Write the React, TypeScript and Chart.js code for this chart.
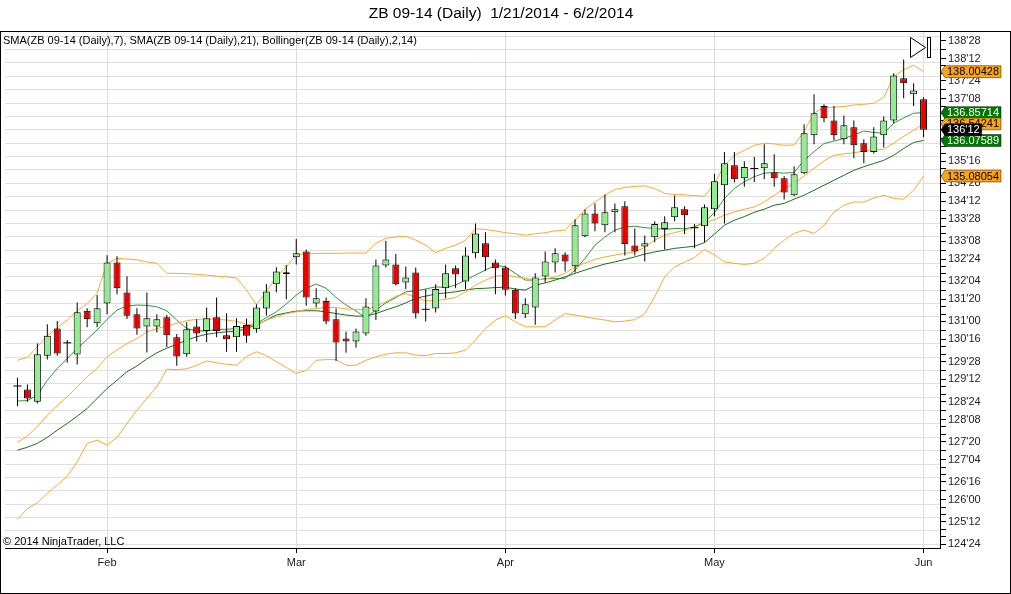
import React, { useEffect, useRef } from 'react';
import Chart from 'chart.js/auto';

// ZB 09-14 daily bars, 1/21/2014 - 6/2/2014 (bar index 0..91)
const monthTicks = [9, 28, 49, 70, 91];
const monthLabels = ['Feb', 'Mar', 'Apr', 'May', 'Jun'];

const priceTicks = [
  138.875, 138.375, 137.75, 137.25, 136.625, 136.125, 135.5, 134.875, 134.375, 133.875,
  133.25, 132.75, 132.125, 131.625, 131.0, 130.5, 129.875, 129.375, 128.75, 128.25,
  127.625, 127.125, 126.5, 126.0, 125.375, 124.75,
];

const opens = [
  129.19, 129.09, 128.75, 130.04, 130.8, 130.4, 130.07, 131.3, 130.95, 131.5,
  132.65, 131.81, 131.2, 130.86, 130.86, 131.12, 130.56, 130.08, 130.86, 130.73,
  131.12, 130.61, 130.56, 130.9, 130.78, 131.36, 132.04, 132.38, 132.8, 132.96,
  131.5, 131.57, 131.06, 130.52, 130.44, 130.66, 131.28, 132.57, 132.6, 132.09,
  132.37, 131.34, 131.36, 131.93, 132.49, 132.12, 132.91, 133.19, 132.65, 132.51,
  131.89, 131.2, 131.39, 132.26, 132.65, 132.88, 132.55, 133.39, 134.03, 133.7,
  134.06, 134.23, 133.13, 133.1, 133.36, 133.59, 133.92, 134.15, 133.63, 133.67,
  134.15, 134.82, 135.38, 135.02, 135.29, 135.3, 135.18, 135.02, 134.54, 135.16,
  136.22, 137.04, 136.64, 136.11, 136.45, 136.0, 135.75, 136.22, 136.64, 137.82,
  137.37, 137.23,
];
const highs = [
  129.42, 129.23, 130.38, 130.92, 131.01, 130.48, 131.53, 131.37, 131.74, 132.86,
  132.83, 132.27, 131.37, 131.81, 131.2, 131.18, 130.65, 130.98, 131.06, 131.39,
  131.67, 131.23, 131.09, 131.08, 131.48, 132.05, 132.52, 132.58, 133.31, 133.02,
  131.93, 131.67, 131.36, 130.71, 130.8, 131.65, 132.74, 133.26, 132.89, 132.54,
  132.51, 131.9, 132.04, 132.6, 132.57, 133.08, 133.75, 133.5, 132.74, 132.56,
  131.93, 131.65, 132.35, 132.96, 133.05, 132.94, 133.87, 134.15, 134.31, 134.56,
  134.31, 134.37, 133.61, 133.41, 133.81, 133.95, 134.53, 134.23, 133.73, 134.28,
  135.14, 135.75, 135.75, 135.49, 135.61, 135.97, 135.69, 135.07, 135.35, 136.53,
  137.37, 137.09, 137.04, 136.78, 136.64, 136.11, 136.45, 136.75, 137.96, 138.35,
  137.68, 137.29,
];
const lows = [
  128.62, 128.75, 128.7, 129.93, 130.04, 129.84, 129.79, 130.84, 130.84, 131.2,
  131.76, 131.07, 130.63, 130.13, 130.69, 130.28, 129.76, 130.01, 130.44, 130.42,
  130.56, 130.15, 130.15, 130.4, 130.68, 131.17, 131.81, 131.62, 132.6, 131.44,
  131.39, 130.92, 129.89, 130.12, 130.26, 130.6, 131.04, 132.51, 132.01, 131.91,
  131.08, 131.0, 131.25, 131.65, 131.93, 131.91, 132.77, 132.42, 131.76, 131.73,
  131.07, 131.1, 130.91, 132.09, 132.37, 132.4, 132.37, 133.36, 133.53, 133.5,
  133.5, 132.85, 132.85, 132.68, 133.22, 133.02, 133.81, 133.45, 133.05, 133.22,
  133.95, 133.75, 134.9, 134.78, 134.91, 134.99, 134.78, 134.42, 134.51, 135.13,
  135.97, 136.59, 136.08, 135.97, 135.58, 135.44, 135.71, 135.88, 136.56, 137.26,
  137.04, 136.17,
];
const closes = [
  129.19, 128.84, 130.08, 130.6, 130.1, 130.4, 131.26, 131.06, 131.37, 132.65,
  131.93, 131.16, 130.8, 131.09, 131.06, 130.61, 130.02, 130.78, 130.66, 131.09,
  130.73, 130.5, 130.87, 130.6, 131.39, 131.84, 132.4, 132.33, 132.91, 131.67,
  131.65, 131.0, 130.41, 130.44, 130.72, 131.42, 132.57, 132.74, 132.04, 132.23,
  131.22, 131.34, 131.91, 132.35, 132.32, 132.85, 133.47, 132.8, 132.49, 131.89,
  131.22, 131.48, 132.23, 132.68, 132.91, 132.68, 133.7, 134.03, 133.75, 134.06,
  134.15, 133.17, 132.96, 133.19, 133.73, 133.78, 134.2, 133.98, 133.63, 134.2,
  134.93, 135.44, 134.99, 135.33, 135.29, 135.44, 135.02, 134.62, 135.13, 136.28,
  136.84, 136.7, 136.22, 136.5, 135.94, 135.75, 136.19, 136.64, 137.9, 137.68,
  137.48, 136.375,
];

const sma7 = [
  128.77, 128.78, 128.93, 129.35, 129.68, 129.96, 130.24, 130.5, 130.76, 131.06,
  131.32, 131.43, 131.46, 131.45, 131.41, 131.3, 131.04, 130.8, 130.74, 130.73,
  130.78, 130.78, 130.8, 130.85, 130.94, 131.11, 131.27, 131.49, 131.74, 131.93,
  132.05, 131.93, 131.67, 131.46, 131.29, 131.11, 131.32, 131.52, 131.67, 131.83,
  131.86, 131.91, 131.97, 131.95, 132.02, 132.16, 132.3, 132.44, 132.58, 132.53,
  132.35, 132.16, 132.16, 132.2, 132.2, 132.21, 132.44, 132.77, 133.14, 133.37,
  133.56, 133.65, 133.67, 133.63, 133.61, 133.58, 133.61, 133.6, 133.65, 133.79,
  134.05, 134.45, 134.73, 134.92, 135.06, 135.16, 135.18, 135.16, 135.18, 135.52,
  135.76, 135.99, 136.06, 136.13, 136.23, 136.34, 136.3, 136.28, 136.56, 136.71,
  136.84, 136.85714,
];
const sma21 = [
  127.39, 127.47, 127.58, 127.75, 127.95, 128.14, 128.34, 128.56, 128.84, 129.12,
  129.35, 129.59, 129.75, 129.95, 130.12, 130.25, 130.36, 130.48, 130.57, 130.64,
  130.68, 130.71, 130.72, 130.8, 130.9, 131.04, 131.18, 131.24, 131.29, 131.3,
  131.3, 131.27, 131.22, 131.18, 131.15, 131.15, 131.22, 131.32, 131.41, 131.52,
  131.65, 131.71, 131.77, 131.8, 131.83, 131.88, 131.92, 131.93, 131.95, 131.96,
  131.91, 131.88, 132.02, 132.08, 132.16, 132.25, 132.35, 132.44, 132.53, 132.61,
  132.67, 132.74, 132.81, 132.89, 132.95, 133.0, 133.05, 133.08, 133.11, 133.21,
  133.45, 133.7, 133.84, 133.94, 134.06, 134.15, 134.26, 134.31, 134.43, 134.54,
  134.68, 134.82, 134.96, 135.1, 135.24, 135.34, 135.43, 135.52, 135.66, 135.85,
  136.02, 136.07589,
];
const bbUpper = [
  129.91, 129.99, 130.29, 130.6, 130.82, 131.04, 131.3, 131.5, 131.79, 132.63,
  132.77, 132.75, 132.73, 132.67, 132.63, 132.35, 132.35, 132.34, 132.32, 132.3,
  132.27, 132.25, 132.22, 131.88, 131.48, 131.83, 132.25, 132.53, 132.86, 132.91,
  132.91, 132.91, 132.91, 132.92, 132.92, 132.92, 133.19, 133.33, 133.37, 133.39,
  133.28, 133.14, 132.93, 133.05, 133.14, 133.28, 133.6, 133.58, 133.54, 133.49,
  133.46, 133.42, 133.46, 133.49, 133.54, 133.56, 133.84, 134.14, 134.35, 134.54,
  134.7, 134.76, 134.79, 134.8, 134.73, 134.59, 134.56, 134.55, 134.53, 134.51,
  134.87, 135.38, 135.66, 135.8, 135.94, 136.0, 135.98, 135.94, 135.95, 136.33,
  136.84, 137.0, 137.01, 137.03, 137.07, 137.09, 137.12, 137.28, 137.87, 138.06,
  138.19, 138.00428,
];
const bbMiddle = [
  127.61, 127.78, 128.06, 128.37, 128.65, 128.89, 129.17, 129.45, 129.68, 130.01,
  130.2, 130.38, 130.52, 130.71, 130.8, 130.87, 130.95, 131.02, 131.06, 131.07,
  131.06, 131.04, 131.0, 130.92, 130.9, 131.04, 131.13, 131.22, 131.27, 131.34,
  131.36, 131.39, 131.39, 131.35, 131.34, 131.32, 131.43, 131.55, 131.71, 131.78,
  131.67, 131.58, 131.58, 131.62, 131.67, 131.83, 132.02, 132.16, 132.27, 132.3,
  132.25, 132.21, 132.16, 132.19, 132.25, 132.35, 132.53, 132.64, 132.74, 132.81,
  132.86, 132.91, 132.95, 133.08, 133.28, 133.42, 133.49, 133.56, 133.64, 133.77,
  133.86, 133.98, 134.07, 134.15, 134.21, 134.35, 134.54, 134.73, 134.87, 135.08,
  135.29, 135.5, 135.66, 135.7, 135.73, 135.78, 135.8, 135.83, 136.0, 136.19,
  136.36, 136.54241,
];
const bbLower = [
  125.45, 125.75, 125.91, 126.18, 126.41, 126.66, 127.06, 127.58, 127.67, 127.53,
  127.74, 128.14, 128.51, 128.84, 129.17, 129.66, 129.65, 129.67, 129.77, 129.89,
  129.84, 129.8, 129.77, 130.01, 130.15, 130.04, 129.87, 129.71, 129.54, 129.63,
  129.91, 129.93, 129.93, 129.77, 129.77, 129.91, 130.01, 130.08, 130.12, 130.12,
  130.06, 130.04, 130.1, 130.1, 130.12, 130.2, 130.48, 130.8, 131.04, 131.16,
  130.99, 130.85, 130.85, 130.85, 131.04, 131.22, 131.18, 131.13, 131.08, 131.04,
  130.99, 131.01, 131.05, 131.22, 131.69, 132.25, 132.53, 132.67, 132.79, 133.02,
  132.87, 132.67, 132.63, 132.6, 132.63, 132.77, 133.05, 133.28, 133.47, 133.56,
  133.47, 133.7, 134.07, 134.26, 134.35, 134.35, 134.46, 134.54, 134.45, 134.43,
  134.68, 135.08054,
];

const FONT = '"Liberation Sans", Arial, sans-serif';
const Y_MIN = 124.645;
const Y_MAX = 139.147;
const GRID_BASE = 124.75;
const GRID_STEP = 0.375;
const UP = 'rgb(144,238,144)';
const DOWN = 'rgb(235,0,0)';
const BB_COLOR = 'rgb(245,170,50)';
const FLAG_ORANGE = 'rgb(250,165,20)';
const FLAG_GREEN = 'rgb(0,120,0)';

function fmt32(v: number) {
  const whole = Math.floor(v + 1e-9);
  const t = Math.round((v - whole) * 32);
  return `${whole}'${String(t).padStart(2, '0')}`;
}

function buildPriceTicks() {
  const map = new Map<string, any>();
  const add = (v: number, key: string) => {
    const k = v.toFixed(4);
    const t = map.get(k) || { value: v, mark: false, grid: false, txt: '' };
    t[key] = true;
    map.set(k, t);
    return t;
  };
  const sorted = [...priceTicks].sort((a, b) => a - b);
  sorted.forEach((v) => {
    add(v, 'mark').txt = fmt32(v);
  });
  for (let i = 0; i < sorted.length - 1; i++) {
    const gap = sorted[i + 1] - sorted[i];
    const n = gap > 0.55 ? 3 : 2;
    for (let k = 1; k < n; k++) add(sorted[i] + (gap * k) / n, 'mark');
  }
  for (let v = GRID_BASE; v <= Y_MAX; v += GRID_STEP) add(v, 'grid');
  return [...map.values()].sort((a, b) => a.value - b.value);
}

const idx = closes.map((_, i) => i);
const series = (arr: number[]) => arr.map((v, i) => ({ x: i, y: v }));

function drawFlag(ctx: CanvasRenderingContext2D, x0: number, y: number, text: string, fill: string, color: string) {
  ctx.font = `11px ${FONT}`;
  const w = ctx.measureText(text).width + 4;
  const h = 12;
  ctx.beginPath();
  ctx.moveTo(x0, y);
  ctx.lineTo(x0 + 4, y - h / 2);
  ctx.lineTo(x0 + 4 + w, y - h / 2);
  ctx.lineTo(x0 + 4 + w, y + h / 2);
  ctx.lineTo(x0 + 4, y + h / 2);
  ctx.closePath();
  ctx.fillStyle = fill;
  ctx.fill();
  ctx.strokeStyle = 'rgba(0,0,0,0.45)';
  ctx.lineWidth = 1;
  ctx.stroke();
  ctx.fillStyle = color;
  ctx.textAlign = 'left';
  ctx.textBaseline = 'middle';
  ctx.fillText(text, x0 + 6, y + 0.5);
}

const overlayPlugin = {
  id: 'ninjaOverlay',
  beforeDraw(chart: any) {
    const { ctx } = chart;
    ctx.save();
    ctx.fillStyle = '#fff';
    ctx.fillRect(0, 0, chart.width, chart.height);
    ctx.restore();
  },
  afterDraw(chart: any) {
    const { ctx, chartArea } = chart;
    const y = chart.scales.y;
    const last = closes.length - 1;
    ctx.save();
    ctx.strokeStyle = '#000';
    ctx.lineWidth = 1;
    ctx.strokeRect(0.5, 31.5, 1010, 562);

    ctx.fillStyle = '#000';
    ctx.textBaseline = 'middle';
    ctx.textAlign = 'center';
    ctx.font = `15.5px ${FONT}`;
    ctx.fillText('ZB 09-14 (Daily)  1/21/2014 - 6/2/2014', 501, 14);

    ctx.textAlign = 'left';
    ctx.font = `11px ${FONT}`;
    ctx.fillText('SMA(ZB 09-14 (Daily),7), SMA(ZB 09-14 (Daily),21), Bollinger(ZB 09-14 (Daily),2,14)', 3, 40.5);
    ctx.fillText('\u00a9 2014 NinjaTrader, LLC', 3, 542);

    // scroll-to-end icon
    ctx.beginPath();
    ctx.moveTo(910.5, 37.5);
    ctx.lineTo(925.5, 47.5);
    ctx.lineTo(910.5, 57.5);
    ctx.closePath();
    ctx.fillStyle = '#fff';
    ctx.fill();
    ctx.stroke();
    ctx.fillRect(927.5, 37.5, 3, 20);
    ctx.strokeRect(927.5, 37.5, 3, 20);

    const x0 = chartArea.right + 1;
    const flags = [
      { v: bbUpper[last], fill: FLAG_ORANGE, color: '#000' },
      { v: sma7[last], fill: FLAG_GREEN, color: '#fff' },
      { v: bbMiddle[last], fill: FLAG_ORANGE, color: '#000' },
      { v: sma21[last], fill: FLAG_GREEN, color: '#fff' },
      { v: bbLower[last], fill: FLAG_ORANGE, color: '#000' },
    ];
    flags.forEach((f) => drawFlag(ctx, x0, y.getPixelForValue(f.v), f.v.toFixed(5), f.fill, f.color));
    drawFlag(ctx, x0, y.getPixelForValue(closes[last]), fmt32(closes[last]), '#000', '#fff');
    ctx.restore();
  },
};

export default function App() {
  const canvasRef = useRef<HTMLCanvasElement>(null);

  useEffect(() => {
    if (!canvasRef.current) return;
    Chart.defaults.font.family = FONT;
    Chart.defaults.font.size = 11;

    const bodyColors = closes.map((c, i) => (c >= opens[i] ? UP : DOWN));
    const dojis = idx.filter((i) => opens[i] === closes[i]).map((i) => ({ x: i, y: opens[i] }));
    const lineSet = (label: string, data: number[], color: string) => ({
      type: 'line' as const,
      label,
      data: series(data),
      borderColor: color,
      borderWidth: 1,
      pointRadius: 0,
      fill: false,
      tension: 0,
      order: 3,
    });

    const chart = new Chart(canvasRef.current, {
      type: 'bar',
      data: {
        datasets: [
          {
            type: 'bar',
            label: 'body',
            data: idx.map((i) => ({ x: i, y: [opens[i], closes[i]] })) as any,
            backgroundColor: bodyColors,
            borderColor: '#000',
            borderWidth: 1,
            borderSkipped: false,
            barThickness: 7,
            grouped: false,
            inflateAmount: 0,
            order: 1,
          },
          {
            type: 'bar',
            label: 'wick',
            data: idx.map((i) => ({ x: i, y: [lows[i], highs[i]] })) as any,
            backgroundColor: '#000',
            borderWidth: 0,
            barThickness: 1,
            grouped: false,
            inflateAmount: 0,
            order: 2,
          },
          {
            type: 'line',
            label: 'doji',
            data: dojis as any,
            showLine: false,
            pointStyle: 'line',
            pointRadius: 4,
            pointBorderColor: '#000',
            pointBorderWidth: 1,
            order: 0,
          },
          lineSet('BB upper', bbUpper, BB_COLOR),
          lineSet('BB middle', bbMiddle, BB_COLOR),
          lineSet('BB lower', bbLower, BB_COLOR),
          lineSet('SMA 21', sma21, 'rgb(30,110,30)'),
          lineSet('SMA 7', sma7, 'rgb(50,150,60)'),
        ] as any,
      },
      options: {
        animation: false,
        responsive: false,
        devicePixelRatio: 1,
        layout: { padding: { top: 31, left: 1, right: 1, bottom: 1 } },
        plugins: { legend: { display: false }, tooltip: { enabled: false }, title: { display: false } },
        scales: {
          x: {
            type: 'linear',
            min: -1.25,
            max: 92.65,
            offset: false,
            afterBuildTicks: (s: any) => {
              s.ticks = monthTicks.map((v) => ({ value: v }));
            },
            afterFit: (s: any) => {
              s.height = 45;
            },
            ticks: {
              autoSkip: false,
              maxRotation: 0,
              padding: 3,
              color: '#222',
              callback: (_v: any, i: number) => monthLabels[i],
            },
            grid: { offset: false, color: 'rgb(220,220,220)', tickColor: '#000', tickLength: 5 },
            border: { color: '#000', width: 1 },
          },
          y: {
            type: 'linear',
            position: 'right',
            min: Y_MIN,
            max: Y_MAX,
            afterBuildTicks: (s: any) => {
              s.ticks = buildPriceTicks();
            },
            afterFit: (s: any) => {
              s.width = 70;
            },
            ticks: {
              autoSkip: false,
              padding: 2,
              color: '#222',
              callback: (_v: any, i: number, ticks: any[]) => (ticks[i] && ticks[i].txt) || '',
            },
            grid: {
              offset: false,
              color: (c: any) => (c.tick && c.tick.grid ? 'rgb(224,224,224)' : 'rgba(0,0,0,0)'),
              tickColor: (c: any) => (c.tick && c.tick.mark ? '#000' : 'rgba(0,0,0,0)'),
              tickLength: 6,
            },
            border: { color: '#000', width: 1 },
          },
        },
      },
      plugins: [overlayPlugin],
    } as any);

    return () => chart.destroy();
  }, []);

  return (
    <div style={{ position: 'absolute', left: 0, top: 0, width: 1011, height: 594, background: '#fff' }}>
      <canvas ref={canvasRef} width={1011} height={594} style={{ display: 'block' }} />
    </div>
  );
}
